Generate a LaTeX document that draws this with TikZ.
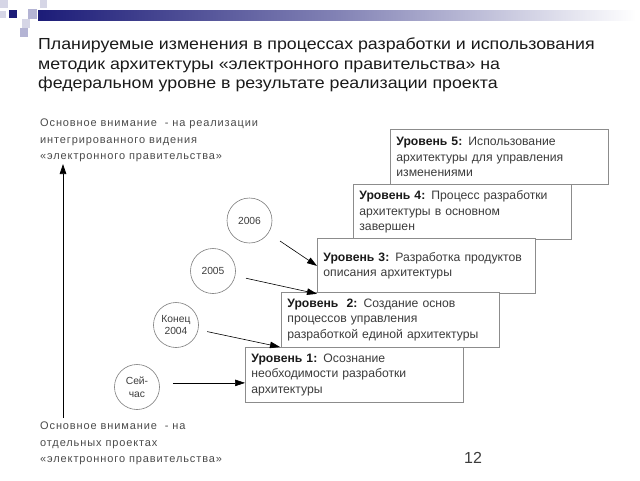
\documentclass[tikz,border=0pt]{standalone}
\usepackage{fontspec}
\setmainfont{Liberation Sans}
\newfontfamily\widefont[LetterSpace=8]{Liberation Sans}
\newfontfamily\titlefont[FakeStretch=1.11]{Liberation Sans}
\usetikzlibrary{arrows.meta,calc}
\definecolor{navy}{HTML}{1C1C78}
\definecolor{lav}{HTML}{B4B4D4}
\definecolor{lavl}{HTML}{D6D6E6}
\definecolor{boxgray}{HTML}{8C8C8C}
\definecolor{circgray}{HTML}{7A7A7A}
\definecolor{txtgray}{HTML}{3C3C3C}
\definecolor{dark}{HTML}{1A1A1A}
\definecolor{lblgray}{HTML}{4A4A4A}
\begin{document}
\begin{tikzpicture}[x=1pt,y=-1pt,
  lvl/.style={draw=boxgray, line width=0.8pt, fill=white, minimum width=218pt,
    minimum height=55pt, anchor=north west, inner xsep=6pt, inner ysep=0pt,
    text width=206pt, align=left, font=\fontsize{12.2}{15.5}\selectfont, text=txtgray},
  circ/.style={circle, draw=circgray, line width=0.6pt, minimum size=45pt, inner sep=0pt,
    align=center, font=\fontsize{10.3}{12.5}\selectfont, text=txtgray},
  arr/.style={-{Triangle[length=10pt,width=6.5pt]}, line width=0.6pt, black},
  lbl/.style={anchor=north west, align=left, inner sep=0pt, text=lblgray,
    font=\widefont\fontsize{11}{16.5}\selectfont}]
\useasboundingbox (0,0) rectangle (640,480);
% header decoration
\shade[left color=navy, right color=white, middle color=navy!55!white] (38,10) rectangle (636,20);
\fill[lavl] (0,0) rectangle (8,8);
\fill[lavl] (40,0) rectangle (47,8);
\fill[lavl] (0,11) rectangle (6,18);
\fill[navy] (9,10) rectangle (17,18);
\fill[lav] (28,9) rectangle (37,19);
\fill[lavl] (22,19) rectangle (30,28);
\fill[lav] (20,28) rectangle (28,37);
% title
\node[anchor=north west, align=left, inner sep=0pt, text=dark,
  font=\titlefont\fontsize{16}{19.3}\selectfont] (title) at (38,38)
  {Планируемые изменения в процессах разработки и использования\\
   методик архитектуры «электронного правительства» на\\
   федеральном уровне в результате реализации проекта};
% side labels
\node[lbl] (ltop) at (40,119) {Основное внимание \ - на реализации\\интегрированного видения\\«электронного правительства»};
\node[lbl] (lbot) at (40,422) {Основное внимание \ - на\\отдельных проектах\\«электронного правительства»};
\coordinate (vb) at (63,418);
\coordinate (vt) at (63,164);
\draw[arr, line width=0.7pt] (vb) -- (vt);
% level boxes
\node[lvl] (box5) at (390,129) {\textbf{\color{dark}Уровень 5:} Использование\\архитектуры для управления\\изменениями};
\node[lvl] (box4) at (353,184) {\textbf{\color{dark}Уровень 4:} Процесс разработки\\архитектуры в основном\\завершен};
\node[lvl] (box3) at (317,238) {\textbf{\color{dark}Уровень 3:} Разработка продуктов\\описания архитектуры};
\node[lvl] (box2) at (281,292) {\textbf{\color{dark}Уровень \ 2:} Создание основ\\процессов управления\\разработкой единой архитектуры};
\node[lvl] (box1) at (245,347) {\textbf{\color{dark}Уровень 1:} Осознание\\необходимости разработки\\архитектуры};
% circles
\node[circ] (c6) at (249.5,220.5) {2006};
\node[circ] (c5) at (213,271) {2005};
\node[circ] (c4) at (176,325) {Конец\\2004};
\node[circ] (c1) at (137,387) {Сей-\\час};
% arrows
\coordinate (t1) at ($(box1.west)+(0,8)$);
\coordinate (t4) at ($(box1.north west)+(35,0)$);
\draw[arr] ([xshift=13pt]c1.east |- t1) -- (t1);
\draw[arr, shorten <=9pt] (c4) -- (t4);
\draw[arr, shorten <=11pt] (c5) -- (box3.south west);
\draw[arr, shorten <=14pt] (c6) -- (box3.west);
% page number
\node[text=txtgray, font=\fontsize{16}{16}\selectfont, inner sep=0pt] (pg) at (473,458) {12};
\end{tikzpicture}
\end{document}
